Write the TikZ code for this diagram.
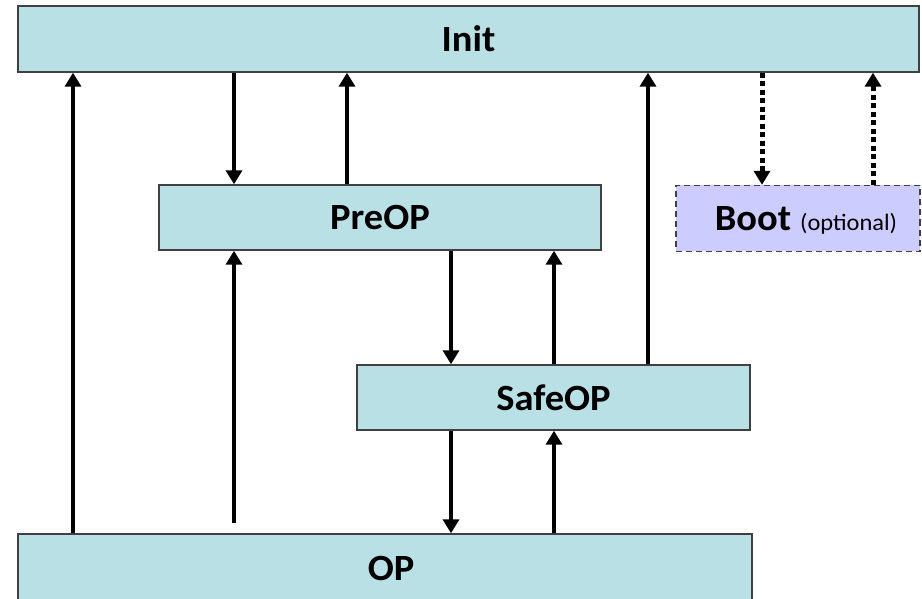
\documentclass[tikz,border=0pt]{standalone}
\usepackage{fontspec}
\newfontfamily\lbl[FakeStretch=1.04]{Carlito}
\usetikzlibrary{arrows.meta}
\definecolor{boxfill}{RGB}{185,224,228}
\definecolor{bootfill}{RGB}{204,204,255}
\definecolor{edge}{RGB}{64,64,64}
\tikzset{
  labelfont/.style={font=\lbl\bfseries\fontsize{37}{43}\selectfont},
  state/.style={draw=edge, line width=1.4pt, fill=boxfill, inner sep=0pt, labelfont},
  arr/.style={line width=3.4pt, -{Triangle[width=16pt,length=14pt]}},
  dotarr/.style={line width=5pt, dash pattern=on 5pt off 3.5pt,
    -{Triangle[width=16pt,length=14pt]}},
}
\begin{document}
\begin{tikzpicture}[x=1pt,y=-1pt]
\useasboundingbox (0,0) rectangle (922,599);
\fill[white] (0,0) rectangle (922,599);
% boxes
\node[state, minimum width=901pt, minimum height=66pt] (Init) at (468.5,39) {Init};
\node[state, minimum width=442pt, minimum height=65pt] (PreOP) at (380,217.5) {PreOP};
\node[state, minimum width=393pt, minimum height=65pt] (SafeOP) at (553.5,397.5) {SafeOP};
\node[state, minimum width=734pt, minimum height=68pt] (OP) at (385,568) {};
\node[labelfont, inner sep=0pt] (OPlbl) at (391,568) {OP};
\node[draw=edge, line width=1.4pt, dash pattern=on 6pt off 4pt, fill=bootfill,
  minimum width=244pt, minimum height=66pt, inner sep=0pt] (Boot) at (798,218.5) {};
\node[inner sep=0pt, anchor=base] (Bootlbl) at (806,230)
  {\lbl{\bfseries\fontsize{37}{43}\selectfont Boot}\hspace{9pt}\fontsize{23.5}{28}\selectfont(optional)};
% columns
\coordinate (c1) at (73,0);
\coordinate (c2) at (234,0);
\coordinate (c3) at (347,0);
\coordinate (c4) at (451,0);
\coordinate (c5) at (554,0);
\coordinate (c6) at (648,0);
\coordinate (c7) at (762,0);
\coordinate (c8) at (873,0);
\coordinate (free) at (234,523);
% arrows
\draw[arr] (OP.north -| c1) -- (Init.south -| c1);
\draw[arr] (Init.south -| c2) -- (PreOP.north -| c2);
\draw[arr] (PreOP.north -| c3) -- (Init.south -| c3);
\draw[arr] (free) -- (PreOP.south -| c2);
\draw[arr] (PreOP.south -| c4) -- (SafeOP.north -| c4);
\draw[arr] (SafeOP.north -| c5) -- (PreOP.south -| c5);
\draw[arr] (SafeOP.north -| c6) -- (Init.south -| c6);
\draw[arr] (SafeOP.south -| c4) -- (OP.north -| c4);
\draw[arr] (OP.north -| c5) -- (SafeOP.south -| c5);
\draw[dotarr] (Init.south -| c7) -- (Boot.north -| c7);
\draw[dotarr] (Boot.north -| c8) -- (Init.south -| c8);
\end{tikzpicture}
\end{document}
